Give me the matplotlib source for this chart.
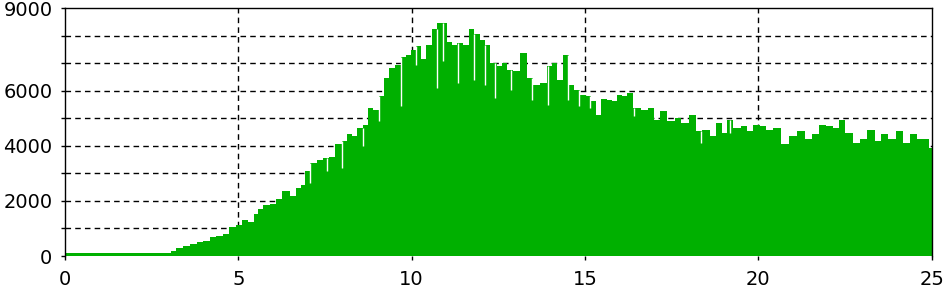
import numpy as np
import matplotlib
matplotlib.use("Agg")
import matplotlib.pyplot as plt
from matplotlib.ticker import MultipleLocator

GREEN = "#00b000"

# peak heights of the signal (x, value)
t = [0.0, 3.0, 3.1, 3.32, 3.5, 3.7, 3.9, 4.09, 4.28, 4.45, 4.66, 4.81,
     5.05, 5.19, 5.38, 5.53, 5.62, 5.82, 6.01, 6.15, 6.39, 6.59, 6.73,
     6.87, 6.97, 7.16, 7.36, 7.55, 7.7, 7.88, 8.08, 8.22, 8.36, 8.51,
     8.7, 8.8, 8.99, 9.13, 9.28, 9.42, 9.61, 9.76, 9.9, 10.05, 10.19,
     10.34, 10.48, 10.67, 10.82, 10.96, 11.1, 11.25, 11.39, 11.59, 11.73,
     11.87, 12.05, 12.16, 12.35, 12.55, 12.69, 12.84, 13.03, 13.22, 13.41,
     13.6, 13.8, 13.99, 14.13, 14.28, 14.47, 14.61, 14.76, 14.95, 15.09,
     15.24, 15.38, 15.53, 15.72, 15.86, 16.01, 16.15, 16.3, 16.49, 16.73,
     16.92, 17.07, 17.26, 17.5, 17.69, 17.88, 18.12, 18.27, 18.51, 18.7,
     18.89, 19.04, 19.18, 19.37, 19.61, 19.76, 19.95, 20.14, 20.33, 20.53,
     20.77, 21.0, 21.25, 21.44, 21.68, 21.83, 22.07, 22.26, 22.41, 22.6,
     22.84, 23.03, 23.27, 23.46, 23.65, 23.85, 24.09, 24.28, 24.47, 24.66,
     24.86, 25.0]
peak = [100, 100, 180, 280, 350, 430, 500, 560, 690, 740, 800, 1050,
        1120, 1310, 1230, 1520, 1700, 1860, 1900, 2080, 2360, 2180, 2480,
        2580, 3080, 3390, 3480, 3560, 3590, 4080, 4170, 4410, 4350, 4650,
        4770, 5370, 5310, 5790, 6460, 6820, 6940, 7220, 7300, 7480, 7630,
        7140, 7660, 8230, 8470, 8470, 7780, 7660, 7720, 7660, 8230,
        8050, 7840, 7660, 7000, 6880, 7000, 6760, 6700, 7360, 6460,
        6220, 6280, 6880, 7000, 6400, 7300, 6220, 6040, 5850, 5790,
        5610, 5130, 5700, 5670, 5610, 5850, 5790, 5900, 5370, 5310,
        5370, 4950, 5250, 4890, 5010, 4830, 5130, 4530, 4590, 4350,
        4830, 4470, 4950, 4650, 4710, 4530, 4770, 4710, 4590, 4650,
        4050, 4350, 4530, 4230, 4410, 4770, 4710, 4650, 4950, 4470,
        4100, 4230, 4590, 4170, 4410, 4230, 4530, 4100, 4410, 4230,
        4230, 3930]

# narrow dips (white slits) in the fill
dip_x = [7.07, 7.55, 8.0, 8.6, 9.07, 9.69, 10.14, 10.74, 10.9, 11.33,
         11.81, 12.13, 12.41, 12.86, 13.47, 13.94, 14.52, 14.83, 15.14,
         16.42, 18.36, 19.18]
dip_lo = [2660, 3080, 3200, 3990, 4890, 5430, 6940, 6100, 7060, 6280,
          6400, 6220, 5730, 6040, 5670, 5490, 5670, 5430, 5380,
          5070, 4100, 4470]

xticks = [0, 5, 10, 15, 20, 25]
yticks = [0, 2000, 4000, 6000, 9000]

t = np.array(t)
peak = np.array(peak)

plt.rcParams["font.family"] = "DejaVu Sans"
fig = plt.figure(figsize=(9.43, 2.97), dpi=100)
ax = fig.add_axes([0.0689, 0.138, 0.9190, 0.835])

ax.fill_between(t, 0, peak, step="mid", color=GREEN, lw=0, zorder=2)
tops = [peak[np.abs(t - x).argmin()] for x in dip_x]
ax.vlines(dip_x, dip_lo, tops, colors="white", lw=1.0, zorder=3)

ax.set_xlim(0, 25)
ax.set_ylim(0, 9000)
ax.set_xticks(xticks)
ax.set_yticks(yticks)
ax.yaxis.set_minor_locator(MultipleLocator(1000))

for y in range(1000, 9000, 1000):
    ax.axhline(y, color="black", lw=1, ls=(0, (4, 3)), zorder=1)
for x in xticks[1:-1]:
    ax.axvline(x, color="black", lw=1, ls=(0, (4, 3)), zorder=1)

ax.spines["bottom"].set_visible(False)
for s in ["left", "top", "right"]:
    ax.spines[s].set_linewidth(1)
    ax.spines[s].set_zorder(4)
ax.tick_params(axis="both", which="both", direction="out", length=3,
               width=1, colors="black", labelsize=14)
ax.tick_params(axis="x", pad=7)
ax.tick_params(axis="y", pad=6)

fig.savefig("out.png", facecolor="white")
